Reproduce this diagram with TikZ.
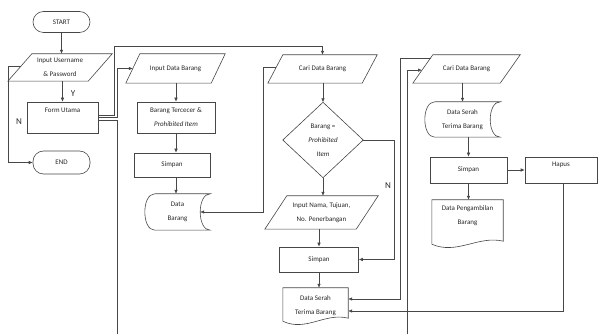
\documentclass[tikz,border=0pt]{standalone}
\usepackage{fontspec}
\setmainfont{Carlito}
\usetikzlibrary{arrows.meta,calc}
\tikzset{
 ln/.style={draw=black!72, line width=0.6pt},
 arr/.style={ln, -{Latex[length=4pt,width=3.6pt]}},
 txt/.style={font=\fontsize{7}{14}\selectfont, align=center, text=black!85},
 box/.style={ln, inner sep=0pt, txt},
 shp/.style={inner sep=0pt, txt},
 term/.style={box, rounded corners=10.5pt},
 yn/.style={font=\fontsize{9}{9}\selectfont, text=black!85, inner sep=0pt},
}
\newcommand\paral[2]{\draw[ln] ([xshift=#2pt]#1.north west) -- (#1.north east) -- ([xshift=-#2pt]#1.south east) -- (#1.south west) -- cycle;}
\newcommand\stored[2]{\draw[ln] let \p1=(#1.south west), \p2=(#1.north east) in (\x1+#2pt,\y2) -- (\x2,\y2) .. controls (\x2-1.33*#2pt,\y2) and (\x2-1.33*#2pt,\y1) .. (\x2,\y1) -- (\x1+#2pt,\y1) .. controls (\x1-0.33*#2pt,\y1) and (\x1-0.33*#2pt,\y2) .. (\x1+#2pt,\y2);}
\newcommand\docu[1]{\draw[ln] let \p1=(#1.south west), \p2=(#1.north east) in (\x1,\y1+3pt) -- (\x1,\y2) -- (\x2,\y2) -- (\x2,\y1+6pt) .. controls ({0.65*\x2+0.35*\x1},\y1+12pt) and ({0.35*\x2+0.65*\x1},\y1-8pt) .. (\x1,\y1+3pt);}
\begin{document}
\begin{tikzpicture}[x=1pt,y=-1pt]
\useasboundingbox (0,0) rectangle (598,334);
% left column
\node[term, minimum width=57pt, minimum height=21pt] (start) at (61.5,22) {START};
\node[shp, minimum width=104pt, minimum height=27pt] (login) at (60,67.5) {Input Username\\\& Password};
\paral{login}{24}
\node[box, minimum width=71pt, minimum height=31pt] (form) at (62.5,117.5) {};
\node[txt, inner sep=0pt] (formtxt) at (62.5,110) {Form Utama};
\node[term, minimum width=57pt, minimum height=23pt] (end) at (61.5,162.5) {END};
\node[yn] (ylbl) at (73,94) {Y};
\node[yn] (nlbl) at (19,122) {N};
% second column
\node[shp, minimum width=99pt, minimum height=29pt] (inputdb) at (175.5,68.5) {Input Data Barang};
\paral{inputdb}{14}
\node[box, minimum width=78pt, minimum height=31pt] (tercecer) at (176,117.5) {Barang Tercecer \&\\\textit{Prohibited Item}};
\node[box, minimum width=76pt, minimum height=24pt] (simpan1) at (172,165) {Simpan};
\node[shp, minimum width=65pt, minimum height=36pt] (databarang) at (177.5,212) {Data\\Barang};
\stored{databarang}{10}
% third column
\node[shp, minimum width=109pt, minimum height=28pt] (cari1) at (322.5,69) {Cari Data Barang};
\paral{cari1}{15}
\node[shp, minimum width=80pt, minimum height=75pt] (dia) at (323,140) {Barang =\\\textit{Prohibited}\\\textit{Item}};
\draw[ln] (dia.north) -- (dia.east) -- (dia.south) -- (dia.west) -- cycle;
\node[shp, minimum width=113pt, minimum height=33pt] (inama) at (321.5,212.5) {Input Nama, Tujuan,\\No. Penerbangan};
\paral{inama}{22}
\node[box, minimum width=79pt, minimum height=25pt] (simpan2) at (319,259.5) {Simpan};
\node[shp, minimum width=65pt, minimum height=36pt] (dstb1) at (315.5,306) {Data Serah\\Terima Barang};
\docu{dstb1}
\node[yn] (nlbl2) at (388,186) {N};
% fourth column
\node[shp, minimum width=107pt, minimum height=28pt] (cari2) at (466.5,69) {Cari Data Barang};
\paral{cari2}{20}
\node[shp, minimum width=75pt, minimum height=35pt] (dstb2) at (462.5,119.5) {Data Serah\\Terima Barang};
\stored{dstb2}{10}
\node[box, minimum width=77pt, minimum height=26pt] (simpan3) at (468.5,170) {Simpan};
\node[box, minimum width=72pt, minimum height=26pt] (hapus) at (561,170) {};
\node[txt, inner sep=0pt] (hapustxt) at (561,165) {Hapus};
\node[shp, minimum width=71pt, minimum height=47pt] (dpb) at (467.5,223.5) {};
\docu{dpb}
\node[txt, inner sep=0pt] (dpbtxt) at (467.5,216) {Data Pengambilan\\Barang};
% helper coordinates
\coordinate (lp) at ($(login.south west)!0.55!([xshift=24pt]login.north west)$);
\coordinate (f1) at ($(form.east)+(0,-2.5)$);
\coordinate (f2) at (form.east);
\coordinate (f3) at ($(form.east)+(0,2.5)$);
\coordinate (ip) at ($(inputdb.south west)!0.5!([xshift=14pt]inputdb.north west)$);
\coordinate (bot1) at (117.5,334);
\coordinate (lp2) at ($(cari1.south west)!0.55!([xshift=15pt]cari1.north west)$);
\coordinate (lp3) at ($(cari2.south west)!0.89!([xshift=20pt]cari2.north west)$);
\coordinate (lp4) at ($(cari2.south west)!0.46!([xshift=20pt]cari2.north west)$);
\coordinate (bot2) at (407,334);
% connectors
\draw[arr] (start.south) -- (start.south |- login.north);
\draw[arr] (form.north |- login.south) -- (form.north);
\draw[arr] (lp) -- (lp -| login.south west) |- (end.west);
\draw[arr] (f1) -- ++(16,0) |- ([yshift=8pt]cari1.north) -- (cari1.north);
\draw[arr] (f2) -- ++(19,0) |- (ip);
\draw[ln] (f3) -| (bot1);
\draw[arr] (tercecer.north |- inputdb.south) -- (tercecer.north);
\draw[arr] (tercecer.south) -- (tercecer.south |- simpan1.north);
\draw[arr] (tercecer.south |- simpan1.south) -- (tercecer.south |- databarang.north);
\draw[arr] (lp2) -- ++(-13,0) |- ([xshift=-10pt]databarang.east);
\draw[arr] (dia.north |- cari1.south) -- (dia.north);
\draw[arr] (dia.south) -- (dia.south |- inama.north);
\draw[arr] (simpan2.north |- inama.south) -- (simpan2.north);
\draw[arr] (simpan2.south) -- (simpan2.south |- dstb1.north);
\draw[arr] (dia.east) -- ++(31,0) |- (simpan2.east);
\draw[arr] (lp3) -- ++(-30,0) |- ([yshift=7pt]dstb1.east);
\draw[arr] (bot2) |- (lp4);
\draw[arr] (dstb2.north |- cari2.south) -- (dstb2.north);
\draw[arr] (simpan3.north |- dstb2.south) -- (simpan3.north);
\draw[arr] (simpan3.south) -- (simpan3.south |- dpb.north);
\draw[arr] (simpan3.east) -- (hapus.west);
\draw[arr] ([xshift=2pt]hapus.south) |- ([yshift=-5pt]dstb1.east);
\end{tikzpicture}
\end{document}
